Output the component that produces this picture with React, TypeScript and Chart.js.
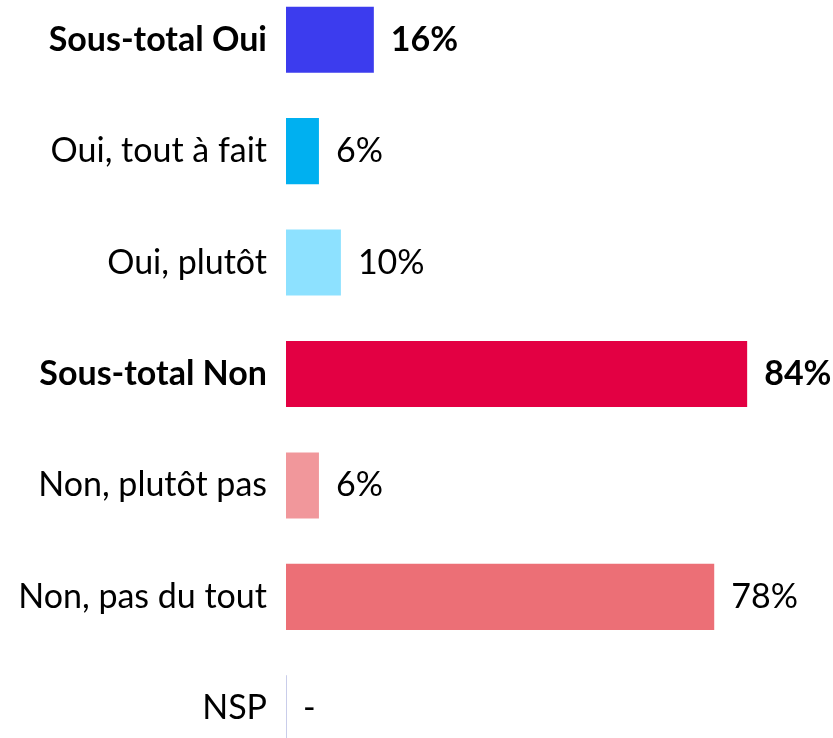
import React, { useEffect, useRef } from "react";
import { Chart, registerables } from "chart.js";

Chart.register(...registerables);

const categories: string[] = [
  "Sous-total Oui",
  "Oui, tout à fait",
  "Oui, plutôt",
  "Sous-total Non",
  "Non, plutôt pas",
  "Non, pas du tout",
  "NSP",
];
const values: number[] = [16, 6, 10, 84, 6, 78, 0];
const boldRows: boolean[] = [true, false, false, true, false, false, false];
const barColors: string[] = [
  "#3C3CEE",
  "#00B0F0",
  "#8DE1FF",
  "#E30043",
  "#F1979B",
  "#EC6F76",
  "rgba(0,0,0,0)",
];

const FONT = "Lato, 'Open Sans', sans-serif";
const FONT_SIZE = 34;

const valueLabels = {
  id: "valueLabels",
  afterDatasetsDraw(chart: any) {
    const ctx = chart.ctx;
    const meta = chart.getDatasetMeta(0);
    const xScale = chart.scales.x;
    ctx.save();
    meta.data.forEach((bar: any, i: number) => {
      const v = values[i];
      if (v === 0) {
        const x0 = Math.round(xScale.getPixelForValue(0)) + 0.5;
        const h = bar.height;
        ctx.strokeStyle = "#C9CDEA";
        ctx.lineWidth = 1;
        ctx.beginPath();
        ctx.moveTo(x0, bar.y - h / 2);
        ctx.lineTo(x0, bar.y + h / 2);
        ctx.stroke();
      }
      const txt = v === 0 ? "-" : v + "%";
      ctx.font = `${boldRows[i] ? "bold " : ""}${FONT_SIZE}px ${FONT}`;
      ctx.fillStyle = "#000";
      ctx.textAlign = "left";
      ctx.textBaseline = "middle";
      ctx.fillText(txt, bar.x + 17, bar.y);
    });
    ctx.restore();
  },
};

export default function App() {
  const ref = useRef<HTMLCanvasElement | null>(null);
  useEffect(() => {
    if (!ref.current) return;
    const chart = new Chart(ref.current, {
      type: "bar",
      data: {
        labels: categories,
        datasets: [
          {
            data: values,
            backgroundColor: barColors,
            borderWidth: 0,
            barPercentage: 0.593,
            categoryPercentage: 1,
          },
        ],
      },
      options: {
        indexAxis: "y",
        responsive: false,
        animation: false,
        layout: { padding: 0 },
        plugins: {
          legend: { display: false },
          tooltip: { enabled: false },
        },
        scales: {
          x: {
            display: false,
            min: 0,
            max: 100,
          },
          y: {
            border: { display: false },
            grid: { display: false, drawTicks: false },
            afterFit: (scale: any) => {
              scale.width = 286;
              scale.paddingTop = 0;
              scale.paddingBottom = 0;
            },
            ticks: {
              padding: 19,
              color: "#000",
              font: (c: any) => ({
                family: FONT,
                size: FONT_SIZE,
                weight: boldRows[c.index] ? "bold" : "normal",
              }),
            },
          },
        },
      },
      plugins: [valueLabels],
    });
    return () => chart.destroy();
  }, []);
  return (
    <div
      style={{
        position: "fixed",
        left: 0,
        top: 0,
        width: 833,
        height: 738,
        overflow: "hidden",
        background: "#fff",
      }}
    >
      <canvas
        ref={ref}
        width={835}
        height={780}
        style={{ position: "absolute", left: 0, top: -16, width: 835, height: 780 }}
      />
    </div>
  );
}
